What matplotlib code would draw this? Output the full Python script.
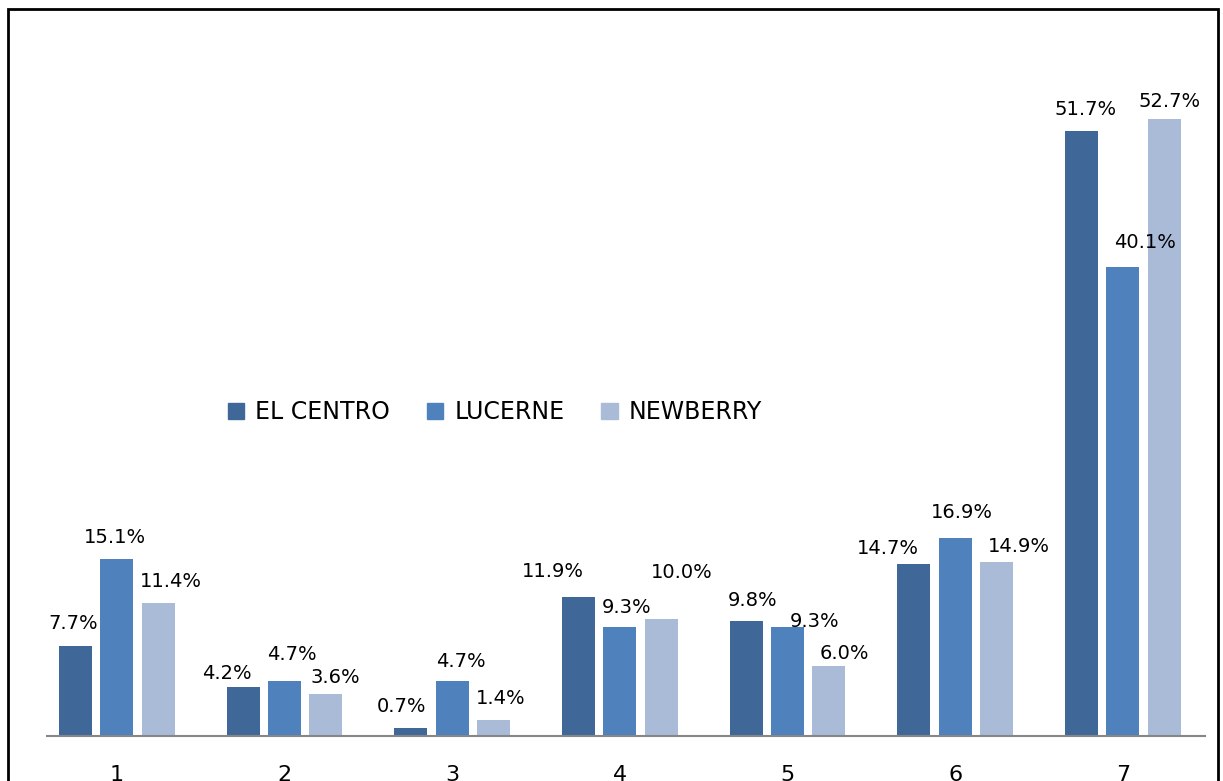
import matplotlib.pyplot as plt
import matplotlib.patches as mpatches
import numpy as np

# categories and series values (percent)
categories = ['1', '2', '3', '4', '5', '6', '7']
el_centro = [7.7, 4.2, 0.7, 11.9, 9.8, 14.7, 51.7]
lucerne = [15.1, 4.7, 4.7, 9.3, 9.3, 16.9, 40.1]
newberry = [11.4, 3.6, 1.4, 10.0, 6.0, 14.9, 52.7]

series = [('EL CENTRO', el_centro, '#3f6899'),
          ('LUCERNE', lucerne, '#4f81bd'),
          ('NEWBERRY', newberry, '#aabbd8')]

# label nudges in pixels (dx, gap above bar top), as placed in the original
label_dx = [[-2, -16, -9, -26, 6, -26, 4],
            [-2, 7, 9, 7, 27, 7, 22],
            [13, 9, 7, 20, 15, 22, 5]]
label_gap = [[17, 8, 16, 20, 15, 10, 16],
             [16, 21, 14, 14, 0, 20, 19],
             [16, 11, 16, 41, 7, 10, 12]]

W, H = 1223, 781
fig = plt.figure(figsize=(W / 100, H / 100), dpi=100)
px = 72 / 100  # points per pixel

# axes: baseline at y=736 px, x from 47 to 1205 px
ax = fig.add_axes([47 / W, 45 / H, (1205 - 47) / W, 702 / H])

x = np.arange(1, len(categories) + 1)
width = 0.197
step = 0.247
for i, (name, vals, col) in enumerate(series):
    pos = x + (i - 1) * step
    bars = ax.bar(pos, vals, width, color=col, label=name, zorder=2)
    for j, (b, v) in enumerate(zip(bars, vals)):
        ax.annotate('%.1f%%' % v, (b.get_x() + b.get_width() / 2, v),
                    xytext=(label_dx[i][j] * px, label_gap[i][j] * px),
                    textcoords='offset points',
                    ha='center', va='baseline', fontsize=14, color='black',
                    zorder=3)

ax.set_xlim(0.583, 7.49)
ax.set_ylim(0, 60)
ax.set_xticks(x)
ax.set_xticklabels(categories, fontsize=16)
ax.tick_params(axis='x', length=0, pad=21)
ax.set_yticks([])
for s in ['top', 'right', 'left']:
    ax.spines[s].set_visible(False)
ax.spines['bottom'].set_color('#868686')
ax.spines['bottom'].set_linewidth(1.5)
ax.set_facecolor('none')

handles = [mpatches.Patch(color=c, label=n) for n, _, c in series]
fig.legend(handles=handles, loc='center left',
           bbox_to_anchor=(228 / W, 1 - 412 / H), ncol=3, frameon=False,
           fontsize=17, borderpad=0, borderaxespad=0,
           handlelength=0.68, handleheight=0.68,
           handletextpad=0.47, columnspacing=1.57)

# outer chart border (bottom edge runs off the picture)
border = mpatches.Rectangle((8 / W, -0.05), (1218 - 8) / W, 1.05 - 9 / H,
                            transform=fig.transFigure, fill=False,
                            edgecolor='black', linewidth=2, zorder=5)
fig.patches.append(border)

fig.savefig('out.png', dpi=100)
